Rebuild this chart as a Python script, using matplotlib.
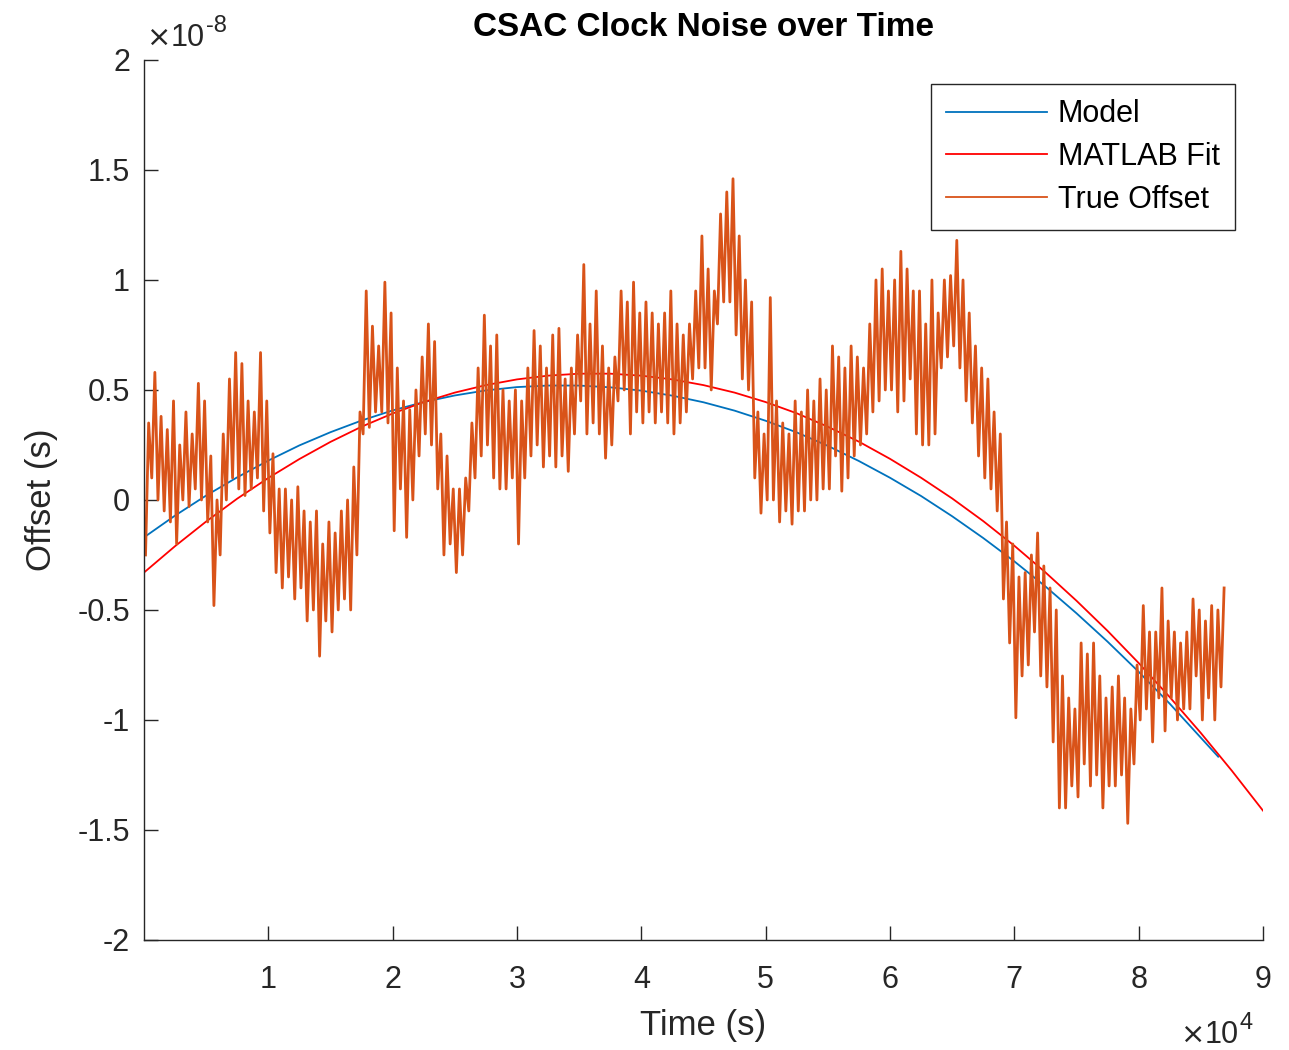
import numpy as np
import matplotlib.pyplot as plt

plt.rcParams['font.family'] = ['Liberation Sans', 'DejaVu Sans']

# model / fit curves sampled every 2500 s (offset in units of 1e-8 s)
t_model = [0, 2500, 5000, 7500, 10000, 12500, 15000, 17500, 20000, 22500,
           25000, 27500, 30000, 32500, 35000, 37500, 40000, 42500, 45000, 47500,
           50000, 52500, 55000, 57500, 60000, 62500, 65000, 67500, 70000, 72500,
           75000, 77500, 80000, 82500, 86400]
model = [-0.17, -0.071, 0.02, 0.103, 0.179, 0.248, 0.308, 0.361, 0.407, 0.445,
         0.475, 0.498, 0.513, 0.52, 0.52, 0.512, 0.497, 0.474, 0.444, 0.406,
         0.36, 0.307, 0.246, 0.177, 0.101, 0.018, -0.074, -0.173, -0.279, -0.393,
         -0.515, -0.644, -0.781, -0.926, -1.167]

t_fit = [0, 2500, 5000, 7500, 10000, 12500, 15000, 17500, 20000, 22500,
         25000, 27500, 30000, 32500, 35000, 37500, 40000, 42500, 45000, 47500,
         50000, 52500, 55000, 57500, 60000, 62500, 65000, 67500, 70000, 72500,
         75000, 77500, 80000, 82500, 85000, 87500, 90000]
fit = [-0.33, -0.21, -0.098, 0.006, 0.1, 0.186, 0.264, 0.333, 0.393, 0.445,
       0.488, 0.522, 0.548, 0.565, 0.574, 0.574, 0.565, 0.548, 0.522, 0.488,
       0.445, 0.394, 0.333, 0.265, 0.187, 0.101, 0.007, -0.096, -0.208, -0.329,
       -0.458, -0.595, -0.741, -0.896, -1.059, -1.231, -1.412]

# true offset: low / high envelope per 500 s bin (units of 1e-8 s)
true_lo = [-0.25, 0.1, 0.0, -0.05, -0.1, -0.2, 0.0, -0.03, 0.05, 0.0,
           -0.1, -0.48, -0.25, 0.0, 0.1, 0.05, 0.02, 0.05, 0.1, -0.05,
           -0.15, -0.33, -0.4, -0.35, -0.45, -0.4, -0.55, -0.5, -0.71, -0.55,
           -0.6, -0.5, -0.45, -0.5, -0.25, 0.3, 0.33, 0.4, 0.4, 0.35,
           -0.14, 0.05, -0.17, 0.0, 0.2, 0.3, 0.25, 0.05, -0.25, -0.2,
           -0.33, -0.25, -0.05, 0.1, 0.2, 0.25, 0.1, 0.05, 0.05, 0.1,
           -0.2, 0.1, 0.2, 0.25, 0.15, 0.2, 0.15, 0.2, 0.13, 0.3,
           0.45, 0.3, 0.35, 0.3, 0.19, 0.25, 0.45, 0.5, 0.3, 0.4,
           0.35, 0.4, 0.35, 0.4, 0.35, 0.3, 0.35, 0.4, 0.55, 0.6,
           0.6, 0.5, 0.8, 0.9, 0.9, 0.75, 0.55, 0.5, 0.1, -0.06,
           0.0, 0.0, -0.1, -0.05, -0.11, -0.05, -0.05, 0.0, 0.0, 0.05,
           0.05, 0.2, 0.04, 0.1, 0.2, 0.25, 0.3, 0.4, 0.45, 0.5,
           0.5, 0.4, 0.45, 0.55, 0.3, 0.25, 0.25, 0.3, 0.6, 0.65,
           0.7, 0.6, 0.45, 0.35, 0.2, 0.1, 0.05, -0.05, -0.45, -0.65,
           -0.99, -0.8, -0.75, -0.6, -0.8, -0.85, -1.1, -1.4, -1.4, -1.3,
           -1.35, -1.2, -1.3, -1.25, -1.4, -1.3, -1.3, -1.25, -1.47, -1.2,
           -1.0, -0.95, -1.1, -0.9, -1.05, -0.9, -1.0, -0.95, -0.95, -0.8,
           -1.0, -0.9, -1.0, -0.85]
true_hi = [0.35, 0.58, 0.38, 0.32, 0.45, 0.25, 0.4, 0.3, 0.53, 0.45,
           0.2, 0.0, 0.3, 0.55, 0.67, 0.62, 0.45, 0.4, 0.67, 0.45,
           0.21, 0.05, 0.05, 0.0, 0.06, -0.05, -0.1, -0.05, -0.2, -0.1,
           -0.15, -0.05, 0.0, 0.15, 0.4, 0.95, 0.79, 0.7, 0.99, 0.85,
           0.6, 0.45, 0.41, 0.5, 0.65, 0.8, 0.72, 0.3, 0.2, 0.05,
           0.05, 0.1, 0.35, 0.6, 0.84, 0.7, 0.75, 0.5, 0.45, 0.5,
           0.45, 0.6, 0.77, 0.7, 0.6, 0.75, 0.78, 0.55, 0.6, 0.75,
           1.07, 0.8, 0.95, 0.7, 0.6, 0.65, 0.95, 0.9, 0.99, 0.85,
           0.9, 0.85, 0.8, 0.85, 0.95, 0.8, 0.75, 0.8, 0.95, 1.2,
           1.05, 0.95, 1.3, 1.4, 1.46, 1.2, 1.0, 0.9, 0.4, 0.3,
           0.92, 0.45, 0.35, 0.3, 0.45, 0.4, 0.5, 0.45, 0.55, 0.5,
           0.7, 0.65, 0.6, 0.7, 0.65, 0.6, 0.8, 1.0, 1.05, 0.95,
           1.0, 1.13, 1.05, 0.95, 0.95, 0.8, 1.0, 0.85, 1.0, 1.02,
           1.18, 1.0, 0.85, 0.7, 0.6, 0.55, 0.4, 0.3, -0.1, -0.2,
           -0.35, -0.33, -0.25, -0.15, -0.3, -0.4, -0.5, -0.8, -0.9, -0.95,
           -0.65, -0.7, -0.65, -0.8, -0.9, -0.85, -0.8, -0.9, -0.95, -0.75,
           -0.48, -0.6, -0.6, -0.4, -0.55, -0.6, -0.65, -0.6, -0.45, -0.5,
           -0.55, -0.48, -0.5, -0.4]

scale = 1e-8
t_true = []
y_true = []
for i in range(len(true_lo)):
    t_true += [i * 500 + 125, i * 500 + 375]
    y_true += [true_lo[i], true_hi[i]]

fig = plt.figure(figsize=(12.89, 10.5), dpi=100)
ax = fig.add_axes([0.1117, 0.1048, 0.8681, 0.8381])

ax.plot(t_model, np.array(model) * scale, color='#0072BD', lw=1.3, label='Model')
ax.plot(t_fit, np.array(fit) * scale, color='#FF0000', lw=1.3, label='MATLAB Fit')
ax.plot(t_true, np.array(y_true) * scale, color='#D95319', lw=2.0, label='True Offset')

ax.set_xlim(0, 90000)
ax.set_ylim(-2e-8, 2e-8)
xt = np.arange(1, 10)
ax.set_xticks(xt * 1e4)
ax.set_xticklabels([str(v) for v in xt])
yt = [-2, -1.5, -1, -0.5, 0, 0.5, 1, 1.5, 2]
ax.set_yticks(np.array(yt) * scale)
ax.set_yticklabels(['%g' % v for v in yt])

gray = '#262626'
for s in ['top', 'right']:
    ax.spines[s].set_visible(False)
for s in ['left', 'bottom']:
    ax.spines[s].set_color(gray)
    ax.spines[s].set_linewidth(1.0)
ax.tick_params(direction='in', length=10, width=1.0, colors=gray, labelsize=22,
               labelcolor=gray)
ax.tick_params(axis='x', pad=18)
ax.tick_params(axis='y', pad=10)

ax.set_title('CSAC Clock Noise over Time', fontsize=24, fontweight='bold', pad=17)
ax.set_xlabel('Time (s)', fontsize=25, color=gray, labelpad=10)
ax.set_ylabel('Offset (s)', fontsize=25, color=gray, labelpad=14)

# exponent labels, MATLAB style
def exp_label(x, y, power):
    fig.text(x / 1289, 1 - y / 1050, r'$\times$', fontsize=21, color=gray, ha='left',
             va='baseline')
    fig.text((x + 25) / 1289, 1 - y / 1050, '10', fontsize=22, color=gray, ha='left',
             va='baseline')
    fig.text((x + 60) / 1289, 1 - (y - 14) / 1050, power, fontsize=17, color=gray,
             ha='left', va='baseline')

exp_label(146, 46, '-8')
exp_label(1180, 1043, '4')

leg = ax.legend(loc='upper right', bbox_to_anchor=(1235 / 1289, 1 - 84 / 1050),
                bbox_transform=fig.transFigure, borderaxespad=0, fontsize=22,
                handlelength=3.3, frameon=True, fancybox=False, framealpha=1,
                edgecolor=gray, borderpad=0.5, labelspacing=0.42, handletextpad=0.35)
leg.get_frame().set_linewidth(1.0)
for h in leg.get_lines():
    h.set_linewidth(1.3)

fig.savefig('out.png', dpi=100)
